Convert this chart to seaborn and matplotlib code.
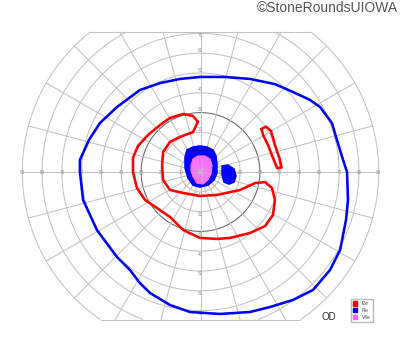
import numpy as np
import matplotlib
matplotlib.use("Agg")
import matplotlib.pyplot as plt
from matplotlib.patches import Patch, Polygon
import seaborn as sns

# ---- data (degrees of visual field, x = horizontal, y = vertical) ----
i4e_x = [-0.25, 12.4, 25.0, 37.6, 46.7, 55.3, 60.4, 66.4, 68.9, 72.0, 74.0, 74.5, 73.5, 70.5,
         65.4, 56.8, 46.7, 35.1, 25.0, 9.8, -5.3, -15.4, -25.5, -30.6, -35.6, -42.2, -52.3,
         -59.3, -60.9, -60.9, -56.3, -50.8, -42.2, -30.6, -20.5, -10.4]
i4e_y = [48.0, 48.0, 47.0, 44.4, 40.4, 36.4, 32.8, 24.7, 16.2, 6.1, 0.0, -14.1, -24.2, -39.4,
         -49.5, -59.6, -64.6, -68.2, -70.7, -71.7, -70.7, -67.2, -61.1, -56.1, -49.5, -42.9,
         -29.3, -14.1, 0.0, 6.1, 16.2, 24.7, 32.8, 41.4, 44.9, 47.0]

i2e_x = [-1.3, -3.8, -10.4, -15.4, -18.9, -19.4, -18.9, -15.4, -8.8, -0.3, 8.3, 19.9, 27.5,
         32.6, 36.1, 37.6, 36.6, 32.6, 25.0, 14.9, 8.3, -0.3, -8.8, -15.4, -22.0, -28.0,
         -32.1, -34.1, -34.1, -31.6, -26.5, -20.5, -15.4, -8.8, -3.8]
i2e_y = [25.3, 20.2, 17.7, 15.2, 10.1, 3.5, -4.0, -9.1, -10.6, -12.1, -11.6, -9.1, -5.6,
         -5.1, -8.1, -14.1, -21.7, -27.3, -30.8, -33.3, -33.8, -33.3, -29.3, -22.7, -18.2,
         -14.1, -8.1, 0.0, 7.1, 13.1, 18.7, 23.7, 27.3, 29.3, 28.3]

i2e_island_x = [30.8, 33.1, 35.6, 37.6, 40.0, 40.9, 38.8, 36.6, 34.1, 31.6]
i2e_island_y = [21.7, 22.9, 20.7, 13.6, 6.6, 2.3, 1.8, 7.1, 13.6, 18.7]

i4e_central_x = [-7.8, -6.8, -3.8, -0.3, 3.3, 6.3, 7.8, 8.3, 8.3, 6.8, 3.8, -0.3, -3.8, -6.3, -7.8]
i4e_central_y = [7.6, 11.1, 12.6, 13.1, 12.6, 11.1, 8.1, 3.5, -0.5, -4.0, -6.6, -7.6, -6.6, -3.0, 2.0]

i4e_blind_x = [10.9, 13.9, 16.9, 17.9, 16.9, 14.4, 11.9, 10.9]
i4e_blind_y = [3.0, 3.5, 1.5, -2.0, -5.1, -6.1, -5.1, -1.5]

v4e_x = [-4.8, -3.8, -1.3, 2.3, 4.8, 5.8, 5.3, 3.8, 1.3, -1.8, -3.8, -4.8]
v4e_y = [3.5, 6.6, 8.1, 8.1, 6.6, 3.5, -1.0, -4.0, -6.1, -5.6, -2.5, 0.5]

h_labels = [10, 20, 30, 40, 50, 60, 70, 80, 90]
v_labels = [10, 20, 30, 40, 50, 60, 70]
legend_labels = ["I2e", "I4e", "V4e"]
legend_colors = ["#ff0000", "#0000ff", "#ff66ff"]

# ---- figure ----
sns.set_style("white")
plt.rcParams['font.family'] = ['Liberation Sans', 'DejaVu Sans']
fig = plt.figure(figsize=(4, 3.52), dpi=100)
ax = fig.add_axes([0, 0, 1, 1])
S = 1.98
ax.set_xlim(-200.5 / S, 199.5 / S)
ax.set_ylim((172 - 352) / S, 172 / S)
ax.axis('off')

Y_TOP, Y_BOT, R_MAX = 70.7, -74.5, 90
GRID = '#c4c4c4'


def grid_lines(clip=None):
    arts = []
    th = np.linspace(0, 2 * np.pi, 1441)
    for r in range(10, 100, 10):
        xs = r * np.cos(th)
        ys = r * np.sin(th)
        m = (ys > Y_TOP) | (ys < Y_BOT)
        xs[m] = np.nan
        ys[m] = np.nan
        arts += ax.plot(xs, ys, color='#666666' if r == 30 else GRID, lw=0.75, zorder=2)
    for yv in (Y_TOP, Y_BOT):
        hw = np.sqrt(R_MAX ** 2 - yv ** 2)
        arts += ax.plot([-hw, hw], [yv, yv], color=GRID, lw=0.75, zorder=2)
    for a in range(0, 360, 15):
        t = np.deg2rad(a)
        c, s = np.cos(t), np.sin(t)
        L = R_MAX
        if s > 1e-9:
            L = min(L, Y_TOP / s)
        if s < -1e-9:
            L = min(L, Y_BOT / s)
        arts += ax.plot([0, L * c], [0, L * s], color=GRID, lw=0.75, zorder=2)
    if clip is not None:
        for a_ in arts:
            a_.set_clip_path(clip)
            a_.set_zorder(5)
            a_.set_alpha(0.6)
            a_.set_linewidth(0.5)
    return arts


grid_lines()

# axis labels
for r in h_labels:
    for sgn in (-1, 1):
        ax.text(sgn * r, 0, str(r), fontsize=3.3, color='#999999', ha='center', va='center', zorder=3)
for r in v_labels:
    for sgn in (-1, 1):
        yy = sgn * (r + 1.5)
        if yy > Y_TOP - 1.5:
            yy = Y_TOP - 1.8
        ax.text(0, yy, str(r), fontsize=3.3, color='#999999', ha='center', va='center', zorder=3)

# filled areas
ax.fill(i4e_central_x, i4e_central_y, color='#0000ff', lw=1.2, zorder=4)
ax.fill(i4e_blind_x, i4e_blind_y, color='#0000ff', lw=1.2, zorder=4)
mag = Polygon(np.column_stack([v4e_x, v4e_y]), closed=True, facecolor='#ff66ff',
              edgecolor='#ff66ff', lw=0.8, zorder=4.5)
ax.add_patch(mag)
grid_lines(clip=mag)


def loop(x, y):
    return list(x) + [x[0]], list(y) + [y[0]]


for (xs, ys), col in [(loop(i4e_x, i4e_y), '#0000ff'),
                      (loop(i2e_x, i2e_y), '#ff0000'),
                      (loop(i2e_island_x, i2e_island_y), '#ff0000')]:
    sns.lineplot(x=xs, y=ys, sort=False, estimator=None, color=col, lw=1.85, ax=ax, legend=False)
    ax.lines[-1].set_zorder(6)
    ax.lines[-1].set_solid_capstyle('round')
    ax.lines[-1].set_solid_joinstyle('round')

handles = [Patch(facecolor=c, edgecolor=c, label=l) for l, c in zip(legend_labels, legend_colors)]
leg = ax.legend(handles=handles, loc='lower right', bbox_to_anchor=(373 / 400, 1 - 322 / 352),
                bbox_transform=fig.transFigure, fontsize=3.5, handlelength=0.9, handleheight=0.9,
                borderpad=0.5, labelspacing=0.35, handletextpad=0.9, borderaxespad=0,
                frameon=True, fancybox=False, edgecolor='#bbbbbb', framealpha=1)
for t in leg.get_texts():
    t.set_color('#444444')
leg.set_zorder(10)

fig.text(328.5 / 400, 1 - 317 / 352, "OD", fontsize=7, color='#333333', ha='center', va='center')
fig.text(398 / 400, 1 - 8 / 352, "©StoneRoundsUIOWA", fontsize=10, color='#555555',
         ha='right', va='center')

fig.savefig("out.png", dpi=100)
